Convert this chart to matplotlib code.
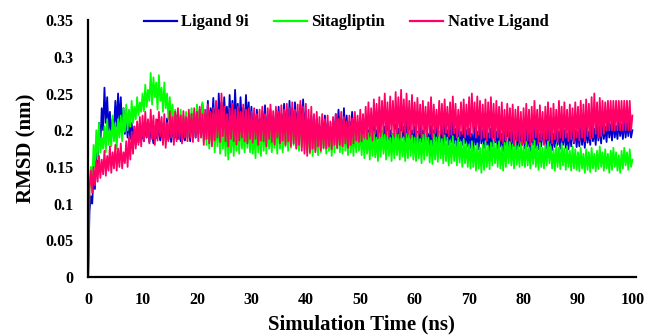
'''
RMSD of ligands over a 100 ns simulation
'''

import matplotlib
matplotlib.use('Agg')
import matplotlib.pyplot as plt
import numpy as np

#=============================================
#   1. data (one value every 0.25 ns, 0-100 ns)

ligand_9i = [
    0.0, 0.09, 0.11, 0.1, 0.14, 0.12, 0.17, 0.15, 0.21, 0.18, 0.23, 0.2, 0.258, 0.21, 0.245, 0.2, 0.225, 0.19, 0.215, 0.2,
    0.24, 0.205, 0.25, 0.21, 0.245, 0.2, 0.23, 0.195, 0.22, 0.19, 0.215, 0.188, 0.21, 0.185, 0.205, 0.18, 0.2, 0.183, 0.21, 0.186,
    0.198, 0.185, 0.207, 0.19, 0.212, 0.184, 0.2, 0.193, 0.182, 0.205, 0.189, 0.214, 0.195, 0.186, 0.209, 0.183, 0.2, 0.192, 0.216, 0.187,
    0.205, 0.184, 0.198, 0.21, 0.19, 0.22, 0.188, 0.206, 0.185, 0.213, 0.194, 0.186, 0.218, 0.19, 0.207, 0.185, 0.222, 0.195, 0.21, 0.19,
    0.215, 0.195, 0.228, 0.2, 0.236, 0.192, 0.222, 0.205, 0.24, 0.198, 0.23, 0.21, 0.244, 0.2, 0.235, 0.196, 0.25, 0.208, 0.238, 0.2,
    0.245, 0.212, 0.232, 0.198, 0.248, 0.205, 0.24, 0.2, 0.255, 0.21, 0.236, 0.197, 0.245, 0.205, 0.23, 0.2, 0.248, 0.21, 0.238, 0.2,
    0.232, 0.195, 0.222, 0.19, 0.228, 0.2, 0.215, 0.188, 0.226, 0.195, 0.234, 0.19, 0.22, 0.198, 0.228, 0.186, 0.218, 0.192, 0.225, 0.2,
    0.232, 0.19, 0.222, 0.195, 0.236, 0.198, 0.228, 0.19, 0.24, 0.2, 0.23, 0.195, 0.238, 0.205, 0.225, 0.193, 0.235, 0.2, 0.242, 0.198,
    0.226, 0.19, 0.215, 0.185, 0.22, 0.188, 0.208, 0.182, 0.215, 0.19, 0.205, 0.184, 0.212, 0.192, 0.22, 0.186, 0.21, 0.18, 0.204, 0.19,
    0.215, 0.186, 0.222, 0.192, 0.228, 0.195, 0.215, 0.188, 0.23, 0.19, 0.22, 0.186, 0.212, 0.195, 0.225, 0.19, 0.218, 0.186, 0.21, 0.192,
    0.205, 0.184, 0.198, 0.18, 0.21, 0.186, 0.2, 0.178, 0.195, 0.185, 0.206, 0.18, 0.2, 0.188, 0.212, 0.182, 0.198, 0.185, 0.205, 0.18,
    0.21, 0.186, 0.2, 0.182, 0.195, 0.188, 0.208, 0.18, 0.202, 0.186, 0.212, 0.19, 0.205, 0.184, 0.215, 0.19, 0.206, 0.185, 0.2, 0.182,
    0.205, 0.18, 0.198, 0.176, 0.208, 0.184, 0.2, 0.178, 0.212, 0.186, 0.195, 0.18, 0.206, 0.176, 0.2, 0.185, 0.21, 0.18, 0.198, 0.183,
    0.206, 0.177, 0.212, 0.186, 0.2, 0.18, 0.208, 0.184, 0.215, 0.182, 0.202, 0.178, 0.208, 0.185, 0.198, 0.18, 0.21, 0.182, 0.2, 0.178,
    0.202, 0.176, 0.195, 0.172, 0.205, 0.18, 0.198, 0.174, 0.21, 0.182, 0.2, 0.176, 0.206, 0.18, 0.196, 0.172, 0.202, 0.178, 0.21, 0.183,
    0.198, 0.175, 0.205, 0.178, 0.195, 0.172, 0.2, 0.18, 0.206, 0.176, 0.198, 0.173, 0.203, 0.178, 0.195, 0.174, 0.2, 0.178, 0.205, 0.18,
    0.198, 0.175, 0.205, 0.178, 0.196, 0.172, 0.202, 0.18, 0.208, 0.176, 0.2, 0.174, 0.195, 0.178, 0.204, 0.182, 0.198, 0.175, 0.206, 0.178,
    0.2, 0.173, 0.195, 0.177, 0.203, 0.18, 0.198, 0.175, 0.205, 0.18, 0.2, 0.176, 0.196, 0.174, 0.202, 0.178, 0.208, 0.182, 0.2, 0.177,
    0.198, 0.178, 0.205, 0.18, 0.2, 0.176, 0.206, 0.183, 0.198, 0.18, 0.208, 0.185, 0.202, 0.18, 0.21, 0.186, 0.205, 0.182, 0.212, 0.188,
    0.205, 0.184, 0.214, 0.19, 0.208, 0.186, 0.215, 0.19, 0.206, 0.188, 0.212, 0.192, 0.208, 0.188, 0.215, 0.19, 0.21, 0.192, 0.212, 0.19,
    0.2]

sitagliptin = [
    0.0, 0.12, 0.15, 0.13, 0.18, 0.15, 0.2, 0.16, 0.21, 0.17, 0.19, 0.175, 0.205, 0.17, 0.215, 0.18, 0.2, 0.178, 0.22, 0.185,
    0.21, 0.175, 0.215, 0.19, 0.22, 0.185, 0.23, 0.198, 0.235, 0.2, 0.228, 0.205, 0.24, 0.21, 0.232, 0.215, 0.245, 0.22, 0.238, 0.225,
    0.25, 0.226, 0.262, 0.232, 0.255, 0.24, 0.278, 0.235, 0.272, 0.245, 0.265, 0.228, 0.275, 0.24, 0.258, 0.225, 0.265, 0.23, 0.25, 0.215,
    0.245, 0.21, 0.235, 0.205, 0.228, 0.198, 0.222, 0.2, 0.228, 0.192, 0.22, 0.198, 0.225, 0.19, 0.218, 0.196, 0.23, 0.2, 0.225, 0.195,
    0.235, 0.2, 0.228, 0.19, 0.238, 0.185, 0.222, 0.18, 0.228, 0.175, 0.215, 0.182, 0.222, 0.17, 0.212, 0.178, 0.218, 0.168, 0.21, 0.175,
    0.205, 0.165, 0.212, 0.16, 0.2, 0.17, 0.208, 0.165, 0.215, 0.172, 0.21, 0.168, 0.218, 0.175, 0.205, 0.17, 0.212, 0.176, 0.208, 0.17,
    0.205, 0.168, 0.198, 0.162, 0.21, 0.17, 0.202, 0.165, 0.212, 0.172, 0.205, 0.168, 0.215, 0.175, 0.2, 0.17, 0.21, 0.176, 0.205, 0.168,
    0.218, 0.175, 0.208, 0.17, 0.215, 0.178, 0.205, 0.172, 0.212, 0.176, 0.22, 0.18, 0.21, 0.175, 0.215, 0.172, 0.222, 0.178, 0.21, 0.174,
    0.205, 0.17, 0.212, 0.168, 0.2, 0.165, 0.208, 0.172, 0.198, 0.166, 0.205, 0.17, 0.212, 0.175, 0.2, 0.168, 0.206, 0.172, 0.198, 0.165,
    0.204, 0.17, 0.21, 0.175, 0.215, 0.17, 0.205, 0.168, 0.21, 0.172, 0.2, 0.166, 0.205, 0.17, 0.198, 0.165, 0.203, 0.17, 0.208, 0.172,
    0.2, 0.166, 0.195, 0.162, 0.202, 0.168, 0.196, 0.16, 0.205, 0.165, 0.198, 0.163, 0.19, 0.158, 0.196, 0.164, 0.2, 0.168, 0.194, 0.16,
    0.198, 0.165, 0.19, 0.158, 0.195, 0.162, 0.2, 0.166, 0.194, 0.16, 0.198, 0.164, 0.19, 0.158, 0.195, 0.162, 0.2, 0.165, 0.193, 0.16,
    0.19, 0.158, 0.196, 0.162, 0.188, 0.155, 0.194, 0.16, 0.2, 0.165, 0.19, 0.156, 0.186, 0.154, 0.195, 0.16, 0.19, 0.157, 0.198, 0.162,
    0.188, 0.155, 0.193, 0.158, 0.19, 0.152, 0.186, 0.155, 0.192, 0.158, 0.185, 0.152, 0.19, 0.156, 0.184, 0.15, 0.188, 0.155, 0.182, 0.15,
    0.18, 0.148, 0.185, 0.15, 0.178, 0.145, 0.182, 0.148, 0.176, 0.142, 0.18, 0.146, 0.185, 0.15, 0.178, 0.147, 0.183, 0.152, 0.188, 0.155,
    0.18, 0.15, 0.185, 0.148, 0.178, 0.145, 0.183, 0.15, 0.19, 0.155, 0.184, 0.152, 0.18, 0.148, 0.186, 0.153, 0.178, 0.15, 0.183, 0.152,
    0.178, 0.15, 0.184, 0.152, 0.176, 0.148, 0.182, 0.154, 0.186, 0.15, 0.178, 0.146, 0.183, 0.15, 0.176, 0.148, 0.18, 0.152, 0.185, 0.155,
    0.178, 0.148, 0.174, 0.145, 0.18, 0.15, 0.176, 0.147, 0.182, 0.152, 0.175, 0.146, 0.178, 0.15, 0.172, 0.145, 0.178, 0.148, 0.174, 0.146,
    0.17, 0.144, 0.176, 0.148, 0.168, 0.142, 0.174, 0.146, 0.17, 0.143, 0.176, 0.148, 0.168, 0.144, 0.172, 0.147, 0.178, 0.15, 0.17, 0.145,
    0.174, 0.148, 0.168, 0.142, 0.172, 0.146, 0.176, 0.15, 0.17, 0.145, 0.166, 0.142, 0.172, 0.148, 0.176, 0.152, 0.17, 0.146, 0.174, 0.15,
    0.16]

native_ligand = [
    0.0, 0.12, 0.145, 0.115, 0.15, 0.125, 0.158, 0.13, 0.165, 0.135, 0.16, 0.14, 0.172, 0.138, 0.165, 0.145, 0.178, 0.142, 0.17, 0.148,
    0.18, 0.145, 0.175, 0.15, 0.182, 0.148, 0.17, 0.155, 0.185, 0.15, 0.19, 0.16, 0.198, 0.168, 0.205, 0.175, 0.212, 0.18, 0.218, 0.178,
    0.22, 0.185, 0.225, 0.19, 0.215, 0.182, 0.228, 0.188, 0.22, 0.18, 0.215, 0.186, 0.225, 0.192, 0.218, 0.18, 0.222, 0.176, 0.21, 0.185,
    0.226, 0.19, 0.218, 0.18, 0.225, 0.185, 0.23, 0.188, 0.22, 0.182, 0.226, 0.19, 0.218, 0.185, 0.228, 0.19, 0.222, 0.184, 0.23, 0.19,
    0.225, 0.185, 0.232, 0.19, 0.222, 0.18, 0.228, 0.188, 0.235, 0.182, 0.225, 0.178, 0.23, 0.186, 0.24, 0.19, 0.228, 0.184, 0.25, 0.192,
    0.232, 0.185, 0.222, 0.178, 0.23, 0.188, 0.236, 0.185, 0.228, 0.18, 0.232, 0.186, 0.225, 0.19, 0.235, 0.185, 0.228, 0.182, 0.23, 0.188,
    0.225, 0.183, 0.23, 0.188, 0.222, 0.18, 0.228, 0.186, 0.232, 0.185, 0.222, 0.178, 0.23, 0.188, 0.235, 0.184, 0.226, 0.18, 0.232, 0.19,
    0.225, 0.182, 0.234, 0.186, 0.228, 0.18, 0.236, 0.185, 0.23, 0.178, 0.238, 0.182, 0.228, 0.175, 0.235, 0.18, 0.24, 0.172, 0.232, 0.168,
    0.236, 0.165, 0.228, 0.17, 0.232, 0.175, 0.222, 0.17, 0.225, 0.178, 0.218, 0.172, 0.222, 0.176, 0.215, 0.175, 0.22, 0.178, 0.212, 0.174,
    0.218, 0.18, 0.222, 0.176, 0.215, 0.18, 0.225, 0.178, 0.218, 0.182, 0.212, 0.176, 0.22, 0.18, 0.216, 0.182, 0.225, 0.186, 0.22, 0.184,
    0.228, 0.185, 0.222, 0.19, 0.232, 0.188, 0.238, 0.192, 0.23, 0.186, 0.242, 0.195, 0.236, 0.19, 0.245, 0.192, 0.24, 0.196, 0.25, 0.194,
    0.238, 0.19, 0.246, 0.195, 0.24, 0.192, 0.252, 0.196, 0.245, 0.19, 0.255, 0.198, 0.242, 0.192, 0.25, 0.195, 0.24, 0.19, 0.248, 0.196,
    0.238, 0.192, 0.244, 0.195, 0.235, 0.19, 0.24, 0.196, 0.232, 0.192, 0.238, 0.195, 0.245, 0.19, 0.235, 0.196, 0.228, 0.192, 0.24, 0.195,
    0.236, 0.19, 0.242, 0.196, 0.232, 0.192, 0.238, 0.194, 0.246, 0.196, 0.236, 0.19, 0.228, 0.192, 0.238, 0.195, 0.242, 0.19, 0.235, 0.194,
    0.245, 0.192, 0.25, 0.196, 0.238, 0.19, 0.246, 0.194, 0.24, 0.188, 0.235, 0.19, 0.242, 0.186, 0.238, 0.19, 0.245, 0.188, 0.236, 0.185,
    0.24, 0.19, 0.232, 0.186, 0.238, 0.182, 0.228, 0.186, 0.236, 0.19, 0.23, 0.184, 0.235, 0.18, 0.228, 0.186, 0.232, 0.182, 0.225, 0.18,
    0.23, 0.183, 0.236, 0.186, 0.228, 0.18, 0.232, 0.185, 0.24, 0.19, 0.228, 0.182, 0.234, 0.186, 0.225, 0.18, 0.232, 0.188, 0.238, 0.185,
    0.23, 0.182, 0.236, 0.188, 0.228, 0.184, 0.24, 0.19, 0.232, 0.186, 0.238, 0.19, 0.228, 0.185, 0.235, 0.188, 0.23, 0.184, 0.238, 0.19,
    0.232, 0.186, 0.24, 0.19, 0.235, 0.185, 0.242, 0.192, 0.236, 0.188, 0.245, 0.19, 0.25, 0.195, 0.238, 0.19, 0.244, 0.192, 0.24, 0.195,
    0.238, 0.2, 0.24, 0.2, 0.24, 0.2, 0.24, 0.2, 0.24, 0.2, 0.24, 0.2, 0.24, 0.2, 0.24, 0.2, 0.24, 0.2, 0.24, 0.2,
    0.22]

series_names = ['Ligand 9i', 'Sitagliptin', 'Native Ligand']
series_colors = ['#0000cc', '#00ff00', '#ff0066']

x_ticks = [0, 10, 20, 30, 40, 50, 60, 70, 80, 90, 100]
y_ticks = [0, 0.05, 0.1, 0.15, 0.2, 0.25, 0.3, 0.35]
y_ticklabels = ['0', '0.05', '0.1', '0.15', '0.2', '0.25', '0.3', '0.35']

#=============================================
#   2. plot

plt.rcParams['font.family'] = ['Liberation Serif', 'DejaVu Serif']
plt.rcParams['font.weight'] = 'bold'

fig = plt.figure(figsize=(6.48, 3.35), dpi=100)
ax = fig.add_axes([0.136, 0.173, 0.845, 0.767])

for values, name, colour in zip([ligand_9i, sitagliptin, native_ligand], series_names, series_colors):
    # time grid of the saved frames, 0 to 100 ns
    t = np.linspace(0, 100, len(values))
    ax.plot(t, values, c=colour, linewidth=1.3, label=name)

ax.set_xlim([0, 100.6])
ax.set_ylim([0, 0.35])
ax.set_xticks(x_ticks)
ax.set_yticks(y_ticks)
ax.set_yticklabels(y_ticklabels)
ax.tick_params(length=0, labelsize=11.5, pad=10.5)
for lab in ax.get_xticklabels() + ax.get_yticklabels():
    lab.set_fontweight('bold')

ax.spines['top'].set_visible(False)
ax.spines['right'].set_visible(False)
ax.spines['left'].set_linewidth(1.6)
ax.spines['bottom'].set_linewidth(1.6)

ax.set_xlabel('Simulation Time (ns)', fontsize=15, fontweight='bold', labelpad=5)
ax.set_ylabel('RMSD (nm)', fontsize=15, fontweight='bold', labelpad=6)

leg = fig.legend(loc='center', bbox_to_anchor=(0.534, 0.933), ncol=3, frameon=False,
                 fontsize=12, handlelength=2.0, handletextpad=0.25, columnspacing=1.5)
for line in leg.get_lines():
    line.set_linewidth(1.6)

plt.savefig('out.png', dpi=100)
